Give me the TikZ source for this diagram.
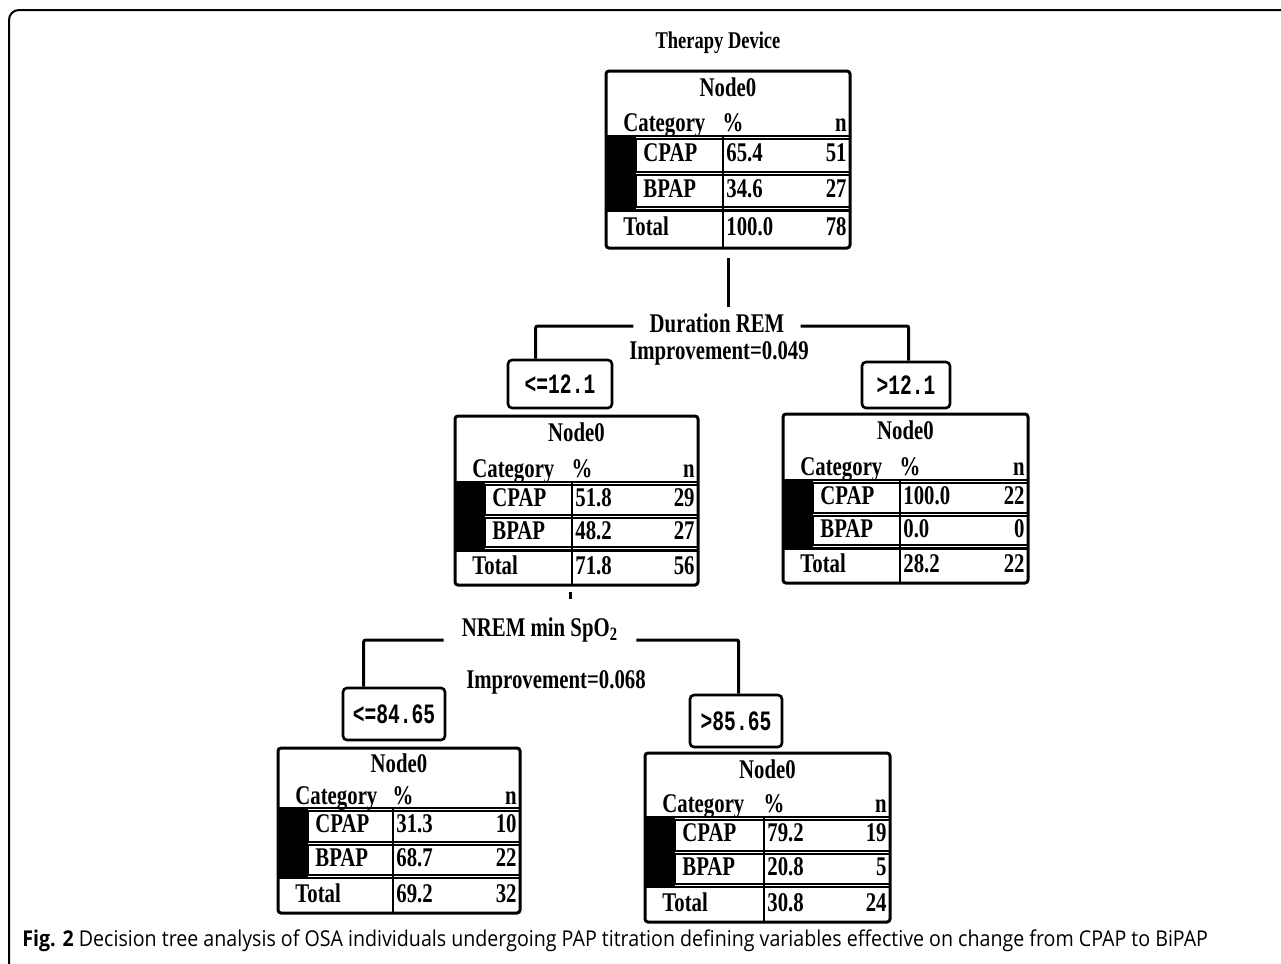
\documentclass[tikz,border=0pt]{standalone}
\usepackage{fontspec}
\setmainfont{Liberation Serif}
\newfontfamily\tf[FakeStretch=0.77]{Liberation Serif}
\newfontfamily\mf[FakeStretch=0.7]{Liberation Mono}
\newfontfamily\cf[FakeStretch=0.9]{Open Sans}
\usetikzlibrary{fit,calc}
\tikzset{
  tout/.style={draw, line width=1.5pt, rounded corners=1.5pt},
  rowbox/.style={draw, line width=1pt},
  cell/.style={inner sep=0, text height=0.66em, text depth=0pt, font=\tf\bfseries\fontsize{13.5}{14}\selectfont},
  conn/.style={line width=1.5pt},
  thr/.style={draw, line width=1.3pt, rounded corners=2pt, font=\mf\bfseries\fontsize{14}{15}\selectfont, inner sep=0},
  lbl/.style={inner sep=0, text height=0.66em, text depth=0pt, font=\tf\bfseries\fontsize{13.5}{14}\selectfont},
}
\def\dvals#1/#2/#3/#4/#5/#6\relax{\def\tVa{#1}\def\tVb{#2}\def\tVc{#3}\def\tVd{#4}\def\tVe{#5}\def\tVf{#6}}
% #1 name, #2 x1, #3 y1, #4 x2, #5 y2, #6 divider x, #7 header y, #8 values
\newcommand\dtable[8]{%
  \dvals#8\relax
  \pgfmathsetmacro\tH{#5-#7}%
  \pgfmathsetmacro\tRa{#7+0.025*\tH}%
  \pgfmathsetmacro\tRb{#7+0.32*\tH}%
  \pgfmathsetmacro\tRc{#7+0.35*\tH}%
  \pgfmathsetmacro\tRd{#7+0.635*\tH}%
  \pgfmathsetmacro\tRe{#7+0.665*\tH}%
  \pgfmathsetmacro\tYa{(\tRa+\tRb)/2}%
  \pgfmathsetmacro\tYb{(\tRc+\tRd)/2}%
  \pgfmathsetmacro\tYc{(\tRe+#5)/2}%
  \pgfmathsetmacro\tXb{#2+30}%
  \pgfmathsetmacro\tYn{#3+0.29*(#7-#3)}%
  \pgfmathsetmacro\tYh{#3+0.83*(#7-#3)}%
  \pgfmathsetmacro\tXm{(#2+#4)/2}%
  \fill (#2,#7) rectangle (\tXb,\tRe);
  \draw[rowbox] (\tXb,\tRa) rectangle (#4,\tRb);
  \draw[rowbox] (\tXb,\tRc) rectangle (#4,\tRd);
  \draw[line width=1.3pt] (#2,#7) -- (#4,#7);
  \draw[line width=1.3pt] (#2,\tRe) -- (#4,\tRe);
  \draw[rowbox] (#6,#7) -- (#6,#5);
  \node[tout, fit={(#2,#3) (#4,#5)}, inner sep=0] (#1) {};
  \node[cell] (#1-title) at (\tXm,\tYn) {Node0};
  \node[cell, anchor=west] (#1-cat) at (#2+17,\tYh) {Category};
  \node[cell] (#1-pct) at (#6+10,\tYh) {\%};
  \node[cell, anchor=east] (#1-n) at (#4-3,\tYh) {n};
  \node[cell, anchor=west] (#1-c) at (\tXb+7,\tYa) {CPAP};
  \node[cell, anchor=west] (#1-cp) at (#6+3,\tYa) {\tVa};
  \node[cell, anchor=east] (#1-cn) at (#4-3,\tYa) {\tVb};
  \node[cell, anchor=west] (#1-b) at (\tXb+7,\tYb) {BPAP};
  \node[cell, anchor=west] (#1-bp) at (#6+3,\tYb) {\tVc};
  \node[cell, anchor=east] (#1-bn) at (#4-3,\tYb) {\tVd};
  \node[cell, anchor=west] (#1-t) at (#2+17,\tYc) {Total};
  \node[cell, anchor=west] (#1-tp) at (#6+3,\tYc) {\tVe};
  \node[cell, anchor=east] (#1-tn) at (#4-3,\tYc) {\tVf};
}
\begin{document}
\begin{tikzpicture}[x=0.5pt, y=-0.5pt]
\useasboundingbox (0,0) rectangle (1281,964);
% frame
\draw[line width=1pt, rounded corners=5pt] (9,964) -- (9,10) -- (1281,10);

\node[lbl, font=\tf\bfseries\fontsize{12}{13}\selectfont] (title) at (718,42) {Therapy Device};

\dtable{root}{606}{71}{850}{248}{723}{136}{65.4/51/34.6/27/100.0/78}
\dtable{ltab}{455}{416}{698}{585}{572}{482}{51.8/29/48.2/27/71.8/56}
\dtable{rtab}{783}{414}{1028}{583}{900}{480}{100.0/22/0.0/0/28.2/22}
\dtable{bl}{278}{748}{520}{913}{393}{808}{31.3/10/68.7/22/69.2/32}
\dtable{br}{645}{753}{890}{922}{764}{817}{79.2/19/20.8/5/30.8/24}

% first split
\node[lbl, inner xsep=8pt] (dur) at (717,326) {Duration REM};
\node[lbl] (imp1) at (719,353) {Improvement=0.049};
\node[thr, minimum width=52pt, minimum height=24pt] (lt) at (560,384) {<=12.1};
\node[thr, minimum width=44pt, minimum height=23pt] (gt) at (906,385) {>12.1};
\draw[conn, shorten <=4pt, shorten >=6pt] (root.south) -- (root.south |- dur.north);
\draw[conn, rounded corners=1pt] (dur.west) -| ($(lt.north west)+(29,0)$);
\draw[conn, rounded corners=1pt] (dur.east) -| ($(gt.north west)+(48,0)$);

% second split
\draw[conn] ($(ltab.south)+(-6,5)$) -- ++(0,7);
\node[lbl, inner xsep=9pt] (nrem) at (540,630) {NREM min SpO\textsubscript{2}};
\node[lbl] (imp2) at (556,682) {Improvement=0.068};
\node[thr, minimum width=51pt, minimum height=26pt] (lt2) at (394,714) {<=84.65};
\node[thr, minimum width=46pt, minimum height=26pt] (gt2) at (736,721) {>85.65};
\draw[conn, rounded corners=1pt] ([yshift=-5pt]nrem.west) -| ($(lt2.north west)+(22,0)$);
\draw[conn, rounded corners=1pt] ([yshift=-5pt]nrem.east) -| ($(gt2.north west)+(50,0)$);

% caption
\node[anchor=west, inner sep=0, font=\cf\fontsize{10.9}{13}\selectfont] (cap) at (22,941)
  {\textbf{Fig. 2} Decision tree analysis of OSA individuals undergoing PAP titration defining variables effective on change from CPAP to BiPAP};
\end{tikzpicture}
\end{document}
